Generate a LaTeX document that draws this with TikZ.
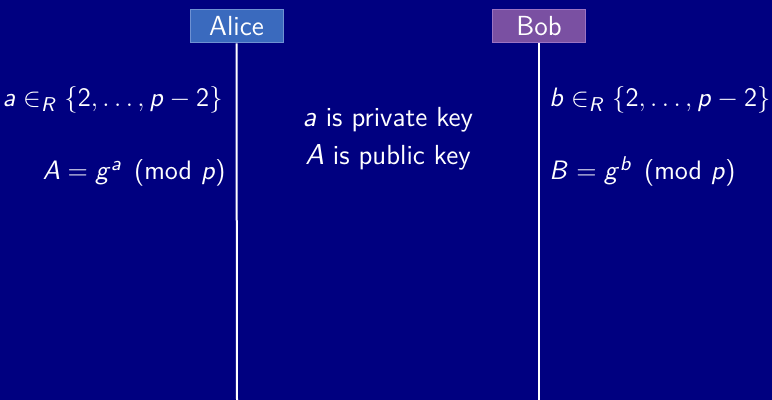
\documentclass[tikz,border=0pt]{standalone}
\usepackage{amsmath}
\usepackage{graphicx}
\DeclareSymbolFont{sfslant}{OT1}{cmss}{m}{sl}
\SetSymbolFont{operators}{normal}{OT1}{cmss}{m}{n}
\DeclareMathSymbol{a}{\mathalpha}{sfslant}{`a}
\DeclareMathSymbol{b}{\mathalpha}{sfslant}{`b}
\DeclareMathSymbol{g}{\mathalpha}{sfslant}{`g}
\DeclareMathSymbol{p}{\mathalpha}{sfslant}{`p}
\DeclareMathSymbol{A}{\mathalpha}{sfslant}{`A}
\DeclareMathSymbol{B}{\mathalpha}{sfslant}{`B}
\DeclareMathSymbol{R}{\mathalpha}{sfslant}{`R}
\newcommand{\mymth}[1]{\scalebox{1.11}{$#1$}}
\definecolor{bgnavy}{RGB}{0,0,128}
\definecolor{alicefill}{RGB}{58,106,190}
\definecolor{aliceline}{RGB}{110,145,210}
\definecolor{bobfill}{RGB}{122,80,162}
\definecolor{bobline}{RGB}{155,115,195}
\tikzset{
  txt/.style={text=white, inner sep=0pt, font=\fontsize{13.8}{16}\selectfont\sffamily},
  mtxt/.style={txt, font=\fontsize{12.8}{15}\selectfont\sffamily},
  actor/.style={txt, minimum width=46.5pt, minimum height=16.5pt, line width=0.5pt},
  life/.style={white, line width=1pt}
}
\begin{document}
\begin{tikzpicture}[x=0.5pt,y=-0.5pt]
\fill[bgnavy] (0,0) rectangle (772,400);
\useasboundingbox (0,0) rectangle (772,400);
\node[actor, fill=alicefill, draw=aliceline] (alice) at (236.5,26.5) {Alice};
\node[actor, fill=bobfill, draw=bobline] (bob) at (539,26.5) {Bob};
\coordinate (aend) at (237,400);
\coordinate (bend) at (539,400);
\draw[life] (alice.south) -- (aend);
\draw[life] (bob.south) -- (bend);
\node[mtxt, anchor=base east] (a1) at (223,107) {\mymth{a \in_R \{2,\ldots,p-2\}}};
\node[mtxt, anchor=base east] (a2) at (226,180) {\mymth{A = g^a \pmod p}};
\node[txt, anchor=base] (c1) at (388,127) {$a$ is private key};
\node[txt, anchor=base] (c2) at (388,165) {$A$ is public key};
\node[mtxt, anchor=base west] (b1) at (549,107) {\mymth{b \in_R \{2,\ldots,p-2\}}};
\node[mtxt, anchor=base west] (b2) at (549,180) {\mymth{B = g^b \pmod p}};
\end{tikzpicture}
\end{document}
